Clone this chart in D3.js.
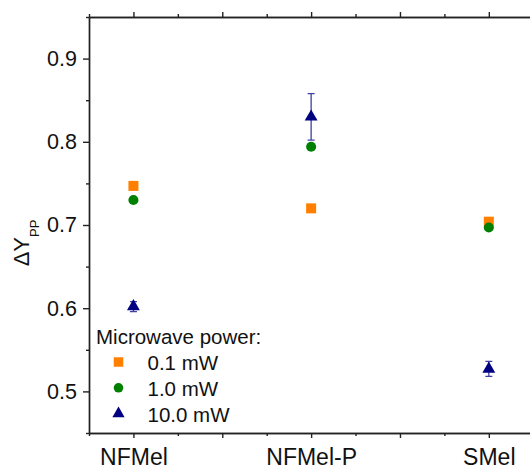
<!DOCTYPE html>
<html>
<head>
<meta charset="utf-8">
<script src="https://cdn.jsdelivr.net/npm/d3@7"></script>
<style>
	body { margin: 0; background: #fff; }
	svg { display: block; font-family: Arial, "Liberation Sans", sans-serif; }
	.axis path, .axis line { stroke: #222; stroke-width: 1.4; }
	.axis text { fill: #111; }
</style>
</head>
<body>
<div id="chart"></div>
<script>
// data ///////////////////////////////////////////////////////////////////
var samples = ['NFMel', 'NFMel-P', 'SMel'];
var samplePos = [1, 3, 5];
var powers = ['0.1 mW', '1.0 mW', '10.0 mW'];
var dy01 = [0.747, 0.720, 0.704];
var dy10 = [0.730, 0.794, 0.697];
var dy100 = [0.602, 0.830, 0.527];
var err100 = [0.006, 0.028, 0.009];
var yMajor = [0.5, 0.6, 0.7, 0.8, 0.9];
var yMinor = [0.45, 0.55, 0.65, 0.75, 0.85, 0.95];
var xMajor = [1, 2, 3, 4, 5];
var xMinor = [0.5, 1.5, 2.5, 3.5, 4.5, 5.5];

var width = 530, height = 468;
var plotLeft = 89, plotTop = 17, plotBottom = 433;

var x = d3.scaleLinear().domain([0.5, 5.5]).range([plotLeft, plotLeft + 5 * 88.85]);
var y = d3.scaleLinear().domain([0.45, 0.95]).range([plotBottom, plotTop]);

var svg = d3.select('#chart').append('svg')
	.attr('width', width)
	.attr('height', height);

var series = [
	{name: powers[0], values: dy01, err: null, shape: d3.symbolSquare, size: 100, color: '#ff8000'},
	{name: powers[1], values: dy10, err: null, shape: d3.symbolCircle, size: 80, color: '#008000'},
	{name: powers[2], values: dy100, err: err100, shape: d3.symbolTriangle, size: 72, color: '#000080'}
];

// axes ///////////////////////////////////////////////////////////////////
function drawX(gen, ypos, size, labels) {
	var g = svg.append('g')
		.attr('class', 'axis')
		.attr('transform', 'translate(0,' + ypos + ')')
		.call(gen.tickSizeInner(size).tickSizeOuter(0));
	if(!labels) g.selectAll('text').remove();
	return g;
}

var labelOf = function(d) {
	var i = samplePos.indexOf(d);
	return i < 0 ? '' : samples[i];
};

drawX(d3.axisBottom(x).tickValues(xMinor), plotBottom, 3, false);
var bx = drawX(d3.axisBottom(x).tickValues(xMajor).tickFormat(labelOf), plotBottom, 5, true);
bx.selectAll('text').attr('font-size', 23).attr('dy', null).attr('y', 31.5);
drawX(d3.axisTop(x).tickValues(xMinor), plotTop, 3, false);
drawX(d3.axisTop(x).tickValues(xMajor), plotTop, 5, false);

var ly = svg.append('g').attr('class', 'axis')
	.attr('transform', 'translate(' + plotLeft + ',0)')
	.call(d3.axisLeft(y).tickValues(yMinor).tickSizeInner(3).tickSizeOuter(0));
ly.selectAll('text').remove();
var my = svg.append('g').attr('class', 'axis')
	.attr('transform', 'translate(' + plotLeft + ',0)')
	.call(d3.axisLeft(y).tickValues(yMajor).tickFormat(d3.format('.1f')).tickSizeInner(6).tickSizeOuter(0));
my.selectAll('text').attr('font-size', 21.5).attr('x', -12);

svg.append('text')
	.attr('transform', 'translate(29,243) rotate(-90)')
	.attr('text-anchor', 'middle')
	.attr('font-size', 22)
	.attr('fill', '#111')
	.call(function(t) {
		t.append('tspan').text('\u0394Y');
		t.append('tspan').attr('font-size', 13).attr('dy', 10).text('PP');
	});

// markers ////////////////////////////////////////////////////////////////
series.forEach(function(s) {
	var g = svg.append('g');
	if(s.err) {
		s.values.forEach(function(v, i) {
			var cx = x(samplePos[i]), y1 = y(v + s.err[i]), y2 = y(v - s.err[i]);
			g.append('path')
				.attr('d', 'M' + [cx, y1] + 'L' + [cx, y2] +
					'M' + [cx - 3.5, y1] + 'L' + [cx + 3.5, y1] +
					'M' + [cx - 3.5, y2] + 'L' + [cx + 3.5, y2])
				.attr('stroke', s.color)
				.attr('stroke-opacity', 0.75)
				.attr('stroke-width', 1.3)
				.attr('fill', 'none');
		});
	}
	g.selectAll('.pt')
		.data(s.values)
		.enter().append('path')
		.attr('class', 'pt')
		.attr('transform', function(d, i) { return 'translate(' + x(samplePos[i]) + ',' + y(d) + ')'; })
		.attr('d', d3.symbol().type(s.shape).size(s.size))
		.attr('fill', s.color);
});

// legend /////////////////////////////////////////////////////////////////
var legend = svg.append('g');
legend.append('text')
	.attr('x', 96)
	.attr('y', 344)
	.attr('font-size', 20.5)
	.attr('fill', '#111')
	.text('Microwave power:');

series.forEach(function(s, i) {
	var yy = 362 + i * 25.8;
	legend.append('path')
		.attr('transform', 'translate(118.5,' + yy + ')')
		.attr('d', d3.symbol().type(s.shape).size(s.size * 0.9))
		.attr('fill', s.color);
	legend.append('text')
		.attr('x', 147.5)
		.attr('y', yy + 8)
		.attr('font-size', 20.5)
		.attr('fill', '#111')
		.text(s.name);
});
</script>
</body>
</html>
